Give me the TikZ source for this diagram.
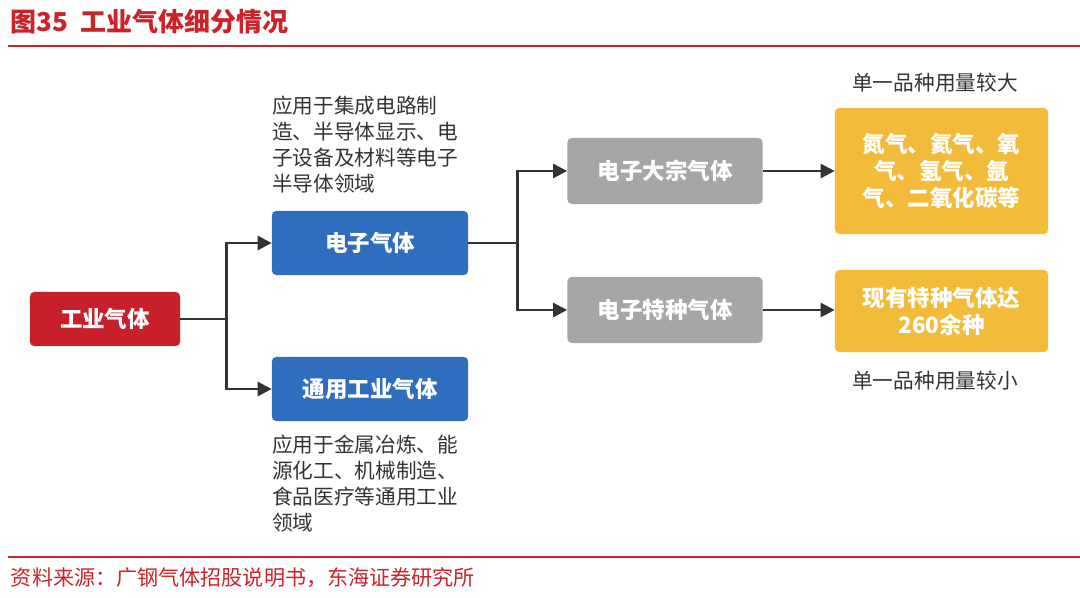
\documentclass[tikz,border=0pt]{standalone}
\usepackage{fontspec}
\setmainfont{Noto Sans CJK SC}
\usetikzlibrary{arrows.meta,positioning}

\definecolor{titlered}{HTML}{CC2229}
\definecolor{boxred}{HTML}{C8202B}
\definecolor{boxblue}{HTML}{2F6DBF}
\definecolor{boxgray}{HTML}{A6A6A6}
\definecolor{boxyellow}{HTML}{F2BC3A}
\definecolor{linedark}{HTML}{333333}

\begin{document}
\begin{tikzpicture}[x=0.025cm, y=-0.025cm,
    box/.style={rounded corners=3pt, inner sep=0pt, text=white,
                font=\bfseries\fontsize{16}{19.2}\selectfont, align=center},
    redbox/.style={box, fill=boxred, minimum width=3.75cm, minimum height=1.35cm},
    bluebox/.style={box, fill=boxblue, minimum width=4.9cm, minimum height=1.6cm},
    graybox/.style={box, fill=boxgray, minimum width=4.875cm, minimum height=1.65cm},
    yellowbox/.style={box, fill=boxyellow, minimum width=5.325cm},
    note/.style={inner sep=0pt, text=black!80, align=left,
                 font=\fontsize{14.7}{18.5}\selectfont},
    conn/.style={draw=linedark, line width=1.8pt},
    arr/.style={conn, -{Triangle[length=10pt, width=10pt]}}]
  \useasboundingbox (0,0) rectangle (1080,598);

  % Title and source
  \node[anchor=west, text=titlered, font=\bfseries\fontsize{18.5}{22}\selectfont] (title) at (6,22) {图35\ \ 工业气体细分情况};
  \draw[titlered, line width=2.1pt] (8,46) -- (1080,46);
  \draw[titlered, line width=1.4pt] (8,557) -- (1080,557);
  \node[anchor=west, text=titlered, font=\fontsize{15}{18}\selectfont] (source) at (6,578) {资料来源：广钢气体招股说明书，东海证券研究所};

  % Boxes
  \node[redbox] (indus) at (105,319) {工业气体};
  \node[bluebox] (elec) at (370,243) {电子气体};
  \node[bluebox] (general) at (370,389) {通用工业气体};
  \node[graybox] (bulk) at (665,171) {电子大宗气体};
  \node[graybox] (special) at (665,310) {电子特种气体};
  \node[yellowbox, minimum height=3.15cm] (bulkgas) at (941.5,171)
    {氮气、氦气、氧\\气、氢气、氩\\气、二氧化碳等};
  \node[yellowbox, minimum height=2.05cm] (specgas) at (941.5,311)
    {现有特种气体达\\260余种};

  % Notes
  \node[note, anchor=north west] (elecnote) at (272,96)
    {应用于集成电路制\\造、半导体显示、电\\子设备及材料等电子\\半导体领域};
  \node[note, anchor=north west] (gennote) at (272,435)
    {应用于金属冶炼、能\\源化工、机械制造、\\食品医疗等通用工业\\领域};
  \node[note] (biglabel) at (935,83) {单一品种用量较大};
  \node[note] (smalllabel) at (935,381) {单一品种用量较小};

  % Connectors
  \draw[conn] (indus.east) -- ++(46,0) coordinate (j1);
  \draw[arr] (j1) |- (elec.west);
  \draw[arr] (j1) |- (general.west);
  \draw[conn] (elec.east) -- ++(49,0) coordinate (j2);
  \draw[arr] (j2) |- (bulk.west);
  \draw[arr] (j2) |- (special.west);
  \draw[arr] (bulk.east) -- (bulkgas.west |- bulk.east);
  \draw[arr] (special.east) -- (specgas.west |- special.east);
\end{tikzpicture}
\end{document}
